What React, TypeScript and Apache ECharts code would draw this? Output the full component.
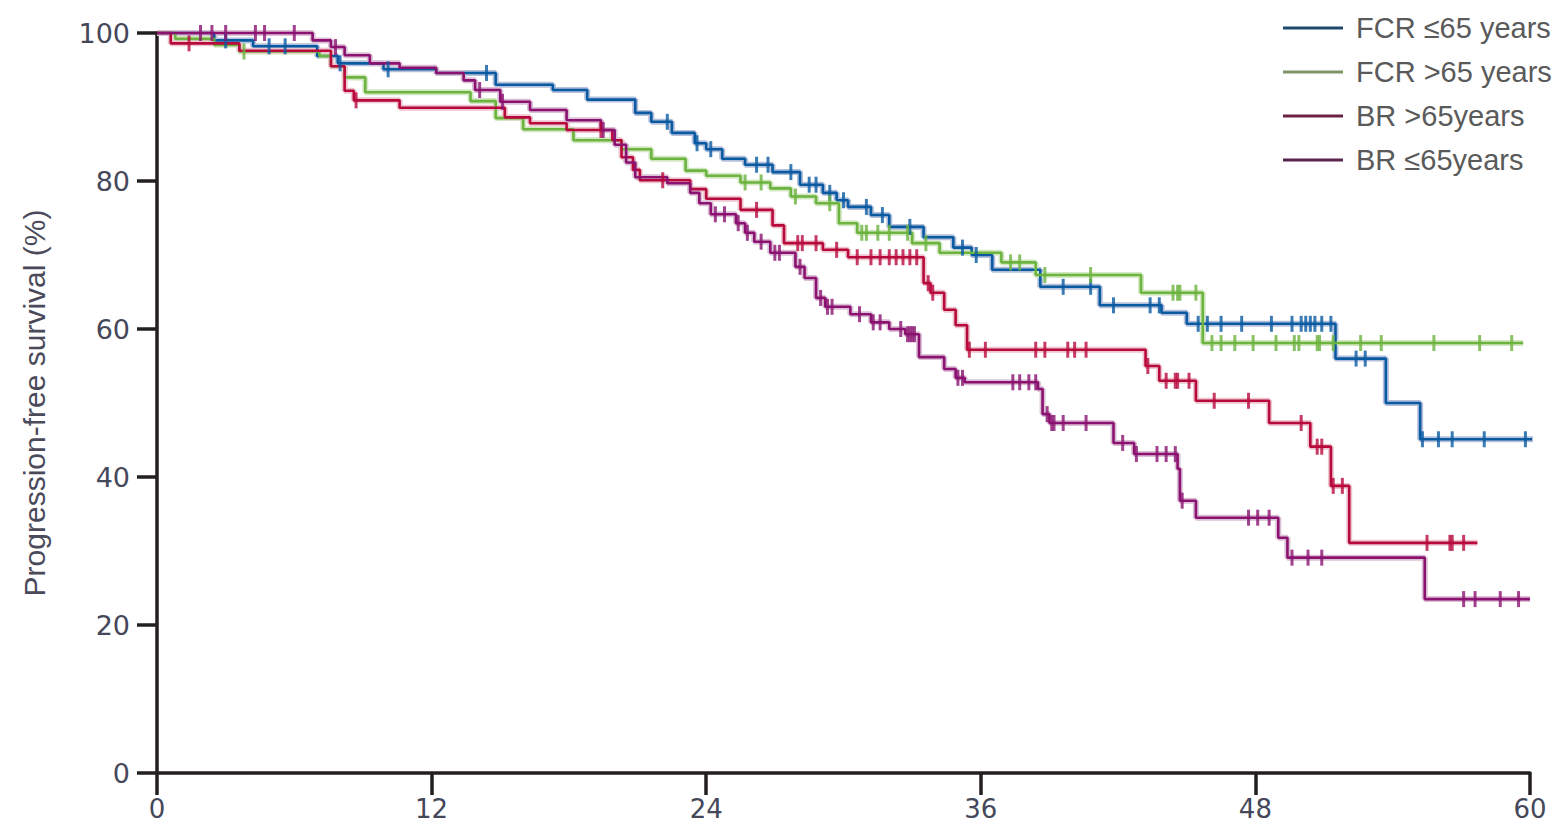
import React, { useEffect, useRef } from "react";
import * as echarts from "echarts";

// ---- Data (months, % progression-free) ----
const xTicks = [0, 12, 24, 36, 48, 60];
const yTicks = [0, 20, 40, 60, 80, 100];

const seriesNames = ["FCR ≤65 years", "FCR >65 years", "BR >65years", "BR ≤65years"];

// FCR ≤65 years
const fcrYoungT = [0, 2.5, 4.2, 7.0, 7.9, 9.9, 12.2, 14.8, 17.3, 18.8, 20.9, 21.6, 22.5, 23.5, 24.0, 24.7, 25.7, 26.9, 28.1, 29.1, 29.7, 30.2, 31.2, 32.0, 33.5, 34.8, 35.6, 36.5, 38.6, 41.2, 43.9, 45.0, 51.5, 53.7, 55.2, 60.4];
const fcrYoungS = [100, 99.0, 98.2, 96.9, 95.9, 95.1, 94.6, 93.0, 92.3, 91.0, 89.2, 88.0, 86.5, 85.1, 84.3, 83.0, 82.2, 81.2, 79.5, 78.4, 77.4, 76.5, 75.4, 73.8, 72.4, 71.0, 70.0, 68.0, 65.7, 63.2, 62.2, 60.7, 56.0, 50.0, 45.1, 45.1];
const fcrYoungCensored = [3.0, 4.9, 5.6, 8.0, 10.1, 14.4, 22.3, 23.6, 24.2, 26.2, 26.7, 27.7, 28.5, 28.8, 29.4, 30.0, 31.0, 31.7, 32.9, 35.2, 35.8, 39.6, 40.8, 41.8, 43.4, 43.8, 45.5, 45.9, 46.5, 47.4, 48.7, 49.6, 50.0, 50.2, 50.4, 50.6, 50.9, 51.3, 52.4, 52.8, 55.3, 56.0, 56.6, 58.0, 59.8];

// FCR >65 years
const fcrOldT = [0, 0.8, 2.5, 3.6, 7.1, 7.6, 8.2, 9.1, 13.7, 14.8, 16.0, 18.2, 20.3, 21.6, 23.1, 24.0, 25.5, 26.8, 27.7, 28.8, 29.8, 30.6, 33.0, 34.2, 36.9, 38.4, 43.0, 45.7, 59.7];
const fcrOldS = [100, 99.2, 98.4, 97.5, 96.9, 95.5, 94.0, 92.0, 90.8, 88.5, 87.0, 85.5, 84.3, 83.0, 81.4, 80.7, 79.8, 79.0, 77.9, 77.0, 74.3, 73.0, 71.6, 70.3, 69.0, 67.3, 64.9, 58.1, 58.1];
const fcrOldCensored = [3.8, 25.7, 26.4, 27.9, 29.4, 30.8, 31.0, 31.5, 32.0, 32.8, 33.6, 37.3, 37.7, 38.8, 40.8, 44.4, 44.6, 44.7, 45.4, 46.1, 46.5, 47.1, 47.9, 48.9, 49.7, 49.9, 50.7, 50.8, 51.4, 52.6, 53.5, 55.8, 57.8, 59.2];

// BR >65 years
const brOldT = [0, 0.6, 3.6, 7.6, 8.2, 8.6, 10.6, 15.2, 16.3, 17.9, 19.9, 20.3, 20.8, 21.1, 23.3, 24.0, 25.5, 26.9, 27.4, 29.1, 30.2, 33.5, 33.8, 34.4, 34.9, 35.4, 43.2, 43.8, 45.4, 48.6, 50.4, 51.3, 52.1, 57.7];
const brOldS = [100, 98.6, 97.6, 95.5, 92.2, 90.9, 89.9, 88.6, 87.8, 86.9, 85.5, 83.2, 81.5, 80.1, 78.9, 77.6, 76.1, 74.0, 71.6, 70.7, 69.7, 66.2, 64.9, 62.6, 60.5, 57.2, 55.0, 53.0, 50.3, 47.3, 44.1, 38.8, 31.1, 31.1];
const brOldCensored = [1.4, 8.7, 19.4, 22.1, 26.2, 28.0, 28.2, 28.8, 29.7, 30.6, 31.2, 31.6, 32.0, 32.3, 32.6, 32.9, 33.2, 33.7, 33.9, 35.5, 36.2, 38.4, 38.8, 39.8, 40.1, 40.6, 43.3, 44.1, 44.5, 44.6, 45.1, 46.2, 47.7, 50.0, 50.7, 50.9, 51.4, 51.8, 55.5, 56.5, 56.6, 57.1];

// BR ≤65 years
const brYoungT = [0, 6.8, 7.6, 8.2, 9.3, 10.6, 12.2, 13.4, 13.9, 15.0, 16.3, 17.9, 19.4, 20.0, 20.5, 20.9, 22.3, 23.3, 23.7, 24.2, 25.3, 25.7, 26.1, 26.8, 27.9, 28.3, 28.8, 29.2, 30.3, 31.2, 32.0, 32.7, 33.3, 34.4, 34.9, 35.3, 38.5, 38.7, 39.0, 41.8, 42.7, 44.6, 44.7, 45.4, 49.0, 49.4, 55.4, 60.0];
const brYoungS = [100, 99.0, 98.1, 97.0, 95.9, 95.3, 94.6, 93.6, 92.3, 90.7, 89.6, 88.2, 86.9, 84.9, 82.5, 80.5, 79.7, 78.4, 77.0, 75.5, 74.3, 73.0, 71.8, 70.3, 68.4, 66.9, 64.2, 63.0, 62.0, 60.9, 60.0, 59.3, 56.2, 54.6, 53.4, 52.8, 51.9, 48.5, 47.3, 44.6, 43.1, 41.1, 36.8, 34.5, 31.8, 29.1, 23.5, 23.5];
const brYoungCensored = [1.9, 2.4, 3.0, 4.3, 4.7, 6.0, 7.8, 14.1, 15.1, 19.5, 24.4, 24.8, 25.4, 25.8, 26.4, 27.0, 27.2, 28.1, 29.0, 29.3, 29.5, 30.7, 31.3, 31.6, 32.5, 32.8, 32.9, 33.0, 33.1, 35.0, 35.2, 37.4, 37.7, 38.1, 38.4, 38.9, 39.1, 39.2, 39.6, 40.6, 42.2, 42.8, 43.7, 44.1, 44.5, 44.8, 47.7, 48.1, 48.6, 49.6, 50.3, 50.9, 57.1, 57.6, 58.7, 59.5];

const lineColors = ["#0a5aa2", "#6cb33f", "#b8093c", "#8b1270"];
const haloColors = ["#b3c0db", "#d3e8c2", "#edc6cf", "#dcc0d6"];
const legendColors = ["#1f4a6e", "#7f9468", "#6a2040", "#5b2350"];

function stepValue(T: number[], S: number[], t: number): number {
  let v = S[0];
  for (let i = 0; i < T.length; i++) {
    if (T[i] <= t) v = S[i];
    else break;
  }
  return v;
}

export default function App() {
  const ref = useRef<HTMLDivElement>(null);

  useEffect(() => {
    if (!ref.current) return;
    const chart = echarts.init(ref.current, undefined, { renderer: "svg" });

    const curves = [
      { T: fcrYoungT, S: fcrYoungS, C: fcrYoungCensored },
      { T: fcrOldT, S: fcrOldS, C: fcrOldCensored },
      { T: brOldT, S: brOldS, C: brOldCensored },
      { T: brYoungT, S: brYoungS, C: brYoungCensored },
    ];

    const halos: any[] = [];
    const lines: any[] = [];
    const marks: any[] = [];
    curves.forEach((c, i) => {
      const pts = c.T.map((t, k) => [t, c.S[k]]);
      halos.push({
        name: seriesNames[i] + " halo",
        type: "line",
        step: "end",
        data: pts,
        showSymbol: false,
        silent: true,
        clip: false,
        z: 1,
        lineStyle: { color: haloColors[i], width: 6 },
        itemStyle: { color: haloColors[i] },
      });
      lines.push({
        name: seriesNames[i],
        type: "line",
        step: "end",
        data: pts,
        showSymbol: false,
        clip: false,
        z: 2,
        lineStyle: { color: lineColors[i], width: 2.6 },
        itemStyle: { color: lineColors[i] },
      });
      marks.push({
        name: seriesNames[i] + " censored",
        type: "scatter",
        data: c.C.map((t) => [t, stepValue(c.T, c.S, t)]),
        symbol: "rect",
        symbolSize: [3, 16],
        z: 3,
        itemStyle: { color: lineColors[i] },
      });
    });

    const axisFont = {
      fontFamily: "DejaVu Sans",
      fontSize: 26,
      color: "#45475a",
    };

    chart.setOption({
      animation: false,
      backgroundColor: "#ffffff",
      grid: { left: 157, top: 33, right: 26, bottom: 53, containLabel: false },
      legend: {
        orient: "vertical",
        left: 1283,
        top: 13,
        padding: 0,
        itemWidth: 60,
        itemHeight: 3,
        itemGap: 14,
        icon: "rect",
        textStyle: {
          fontFamily: "Liberation Sans",
          fontSize: 29,
          lineHeight: 30,
          color: "#5a5a5a",
          padding: [0, 0, 0, 8],
        },
        data: seriesNames.map((n, i) => ({
          name: n,
          itemStyle: { color: legendColors[i] },
          lineStyle: { color: legendColors[i] },
        })),
      },
      xAxis: {
        type: "value",
        min: xTicks[0],
        max: xTicks[xTicks.length - 1],
        interval: 12,
        axisLine: { lineStyle: { color: "#231f20", width: 3.5 } },
        axisTick: { show: true, length: 22, lineStyle: { color: "#231f20", width: 3.5 } },
        axisLabel: { ...axisFont, margin: 23 },
        splitLine: { show: false },
      },
      yAxis: {
        type: "value",
        min: yTicks[0],
        max: yTicks[yTicks.length - 1],
        interval: 20,
        name: "Progression-free survival (%)",
        nameLocation: "middle",
        nameGap: 108,
        nameRotate: 90,
        nameTextStyle: {
          fontFamily: "Liberation Sans",
          fontSize: 30,
          color: "#4a4a5a",
        },
        axisLine: { show: true, lineStyle: { color: "#231f20", width: 3.5 } },
        axisTick: { show: true, length: 20, lineStyle: { color: "#231f20", width: 3.5 } },
        axisLabel: { ...axisFont, fontSize: 27, margin: 27 },
        splitLine: { show: false },
      },
      series: [...halos, ...lines, ...marks],
    });

    return () => chart.dispose();
  }, []);

  return (
    <div
      ref={ref}
      style={{ position: "fixed", left: 0, top: 0, width: 1556, height: 826, background: "#fff" }}
    />
  );
}
